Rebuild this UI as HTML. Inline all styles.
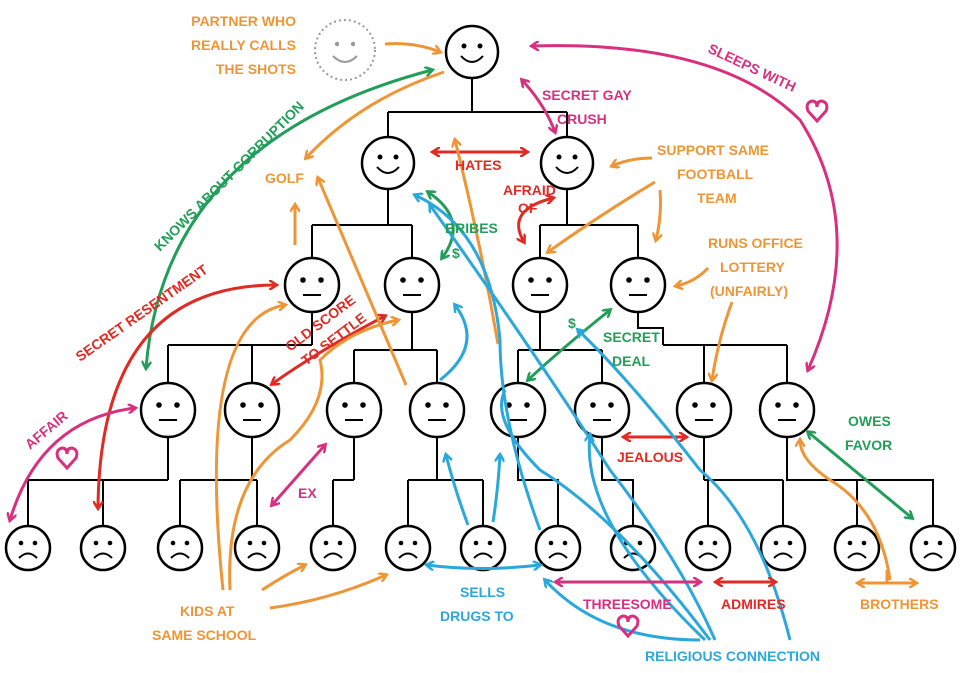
<!DOCTYPE html>
<html><head><meta charset="utf-8"><style>
body{margin:0;background:#fff}
svg{display:block}
text{font-family:"Liberation Sans",sans-serif;font-size:14px;font-weight:bold}
.f{fill:#fff;stroke:#000;stroke-width:2.5}
.l{stroke:#000;stroke-width:2;fill:none}
.o{stroke:#ee9535;fill:none;stroke-width:3}
.m{stroke:#d8307e;fill:none;stroke-width:3}
.g{stroke:#239e5a;fill:none;stroke-width:3}
.r{stroke:#e02a24;fill:none;stroke-width:3}
.b{stroke:#2aa8dc;fill:none;stroke-width:3}
.to{fill:#ee9535}.tm{fill:#d8307e}.tg{fill:#239e5a}.tr{fill:#e02a24}.tb{fill:#2aa8dc}
</style></head><body>
<svg width="962" height="673" viewBox="0 0 962 673" xmlns="http://www.w3.org/2000/svg">
<defs>
<marker id="ao" markerWidth="10" markerHeight="10" refX="7" refY="5" orient="auto-start-reverse" markerUnits="userSpaceOnUse"><path d="M0,0 L8,5 L0,10" fill="none" stroke="#ee9535" stroke-width="2.5"/></marker>
<marker id="am" markerWidth="10" markerHeight="10" refX="7" refY="5" orient="auto-start-reverse" markerUnits="userSpaceOnUse"><path d="M0,0 L8,5 L0,10" fill="none" stroke="#d8307e" stroke-width="2.5"/></marker>
<marker id="ag" markerWidth="10" markerHeight="10" refX="7" refY="5" orient="auto-start-reverse" markerUnits="userSpaceOnUse"><path d="M0,0 L8,5 L0,10" fill="none" stroke="#239e5a" stroke-width="2.5"/></marker>
<marker id="ar" markerWidth="10" markerHeight="10" refX="7" refY="5" orient="auto-start-reverse" markerUnits="userSpaceOnUse"><path d="M0,0 L8,5 L0,10" fill="none" stroke="#e02a24" stroke-width="2.5"/></marker>
<marker id="ab" markerWidth="10" markerHeight="10" refX="7" refY="5" orient="auto-start-reverse" markerUnits="userSpaceOnUse"><path d="M0,0 L8,5 L0,10" fill="none" stroke="#2aa8dc" stroke-width="2.5"/></marker>
<g id="hs"><circle r="26" class="f"/><circle cx="-8" cy="-6" r="2.5"/><circle cx="8" cy="-6" r="2.5"/><path d="M-11,4 Q0,16 11,4" class="l"/></g>
<g id="ns"><circle r="27" class="f"/><circle cx="-9" cy="-5" r="2.8"/><circle cx="9" cy="-5" r="2.8"/><path d="M-9,10 H9" class="l"/></g>
<g id="ss"><circle r="22" class="f"/><circle cx="-7" cy="-5" r="2.3"/><circle cx="7" cy="-5" r="2.3"/><path d="M-9,10 Q0,1 9,10" class="l"/></g>
</defs>

<path class="l" d="M472,78V112M388,112H567M388,112V137M567,112V137
M388,190V225M312,225H412M312,225V258M412,225V258
M567,190V225M540,225H638M540,225V258M638,225V258
M312,313V345M168,345H312M168,345V382M252,345V382
M412,313V350M354,350H437M354,350V382M437,350V382
M540,313V350M518,350H602M518,350V382M602,350V382
M638,313V328H663V345M663,345H787M704,345V382M787,345V382
M168,438V480M28,480H168M28,480V526M103,480V526
M252,438V480M180,480H257M180,480V526M257,480V526
M354,438V480M333,480H354M333,480V526
M437,438V480M408,480H483M408,480V526M483,480V526
M518,438V480H558V526
M602,438V480H633V526
M704,438V480M704,480H783M708,480V526M783,480V526
M787,438V480H933V526M857,480V526"/>

<use href="#hs" x="472" y="52"/>
<use href="#hs" x="388" y="163"/><use href="#hs" x="567" y="163"/>
<use href="#ns" x="312" y="285"/><use href="#ns" x="412" y="285"/><use href="#ns" x="540" y="285"/><use href="#ns" x="638" y="285"/>
<use href="#ns" x="168" y="410"/><use href="#ns" x="252" y="410"/><use href="#ns" x="354" y="410"/><use href="#ns" x="437" y="410"/>
<use href="#ns" x="518" y="410"/><use href="#ns" x="602" y="410"/><use href="#ns" x="704" y="410"/><use href="#ns" x="787" y="410"/>
<use href="#ss" x="28" y="548"/><use href="#ss" x="103" y="548"/><use href="#ss" x="180" y="548"/><use href="#ss" x="257" y="548"/>
<use href="#ss" x="333" y="548"/><use href="#ss" x="408" y="548"/><use href="#ss" x="483" y="548"/><use href="#ss" x="558" y="548"/>
<use href="#ss" x="633" y="548"/><use href="#ss" x="708" y="548"/><use href="#ss" x="783" y="548"/><use href="#ss" x="857" y="548"/><use href="#ss" x="933" y="548"/>

<circle cx="345" cy="50" r="30" fill="none" stroke="#999" stroke-width="2" stroke-dasharray="2,3"/>
<circle cx="337" cy="44" r="2.2" fill="#999"/><circle cx="353" cy="44" r="2.2" fill="#999"/>
<path d="M333,56 Q345,68 357,56" fill="none" stroke="#999" stroke-width="2"/>

<path class="o" marker-end="url(#ao)" d="M385,44 Q415,42 440,52"/>
<path class="o" marker-end="url(#ao)" d="M444,72 Q360,100 306,158"/>
<path class="g" marker-start="url(#ag)" marker-end="url(#ag)" d="M432,70 Q165,140 146,368"/>
<path class="m" marker-start="url(#am)" marker-end="url(#am)" d="M532,46 Q720,40 800,120 Q870,230 808,370"/>
<path class="m" marker-start="url(#am)" marker-end="url(#am)" d="M522,80 Q545,105 555,132"/>
<path class="r" marker-start="url(#ar)" marker-end="url(#ar)" d="M433,152 H527"/>
<path class="r" marker-start="url(#ar)" marker-end="url(#ar)" d="M553,198 Q505,210 524,242"/>
<path class="o" marker-end="url(#ao)" d="M652,158 Q630,158 612,166"/>
<path class="o" marker-end="url(#ao)" d="M655,182 Q600,215 548,252"/>
<path class="o" marker-end="url(#ao)" d="M660,190 Q662,215 656,240"/>
<path class="o" marker-end="url(#ao)" d="M708,268 Q695,282 676,286"/>
<path class="o" marker-end="url(#ao)" d="M732,302 Q718,340 712,380"/>
<path class="o" marker-end="url(#ao)" d="M295,245 V205"/>
<path class="g" marker-start="url(#ag)" marker-end="url(#ag)" d="M428,192 Q470,220 442,258"/>
<path class="g" marker-start="url(#ag)" marker-end="url(#ag)" d="M610,310 Q560,350 528,380"/>
<path class="r" marker-start="url(#ar)" marker-end="url(#ar)" d="M276,285 Q100,285 98,508"/>
<path class="r" marker-start="url(#ar)" marker-end="url(#ar)" d="M385,316 Q320,350 272,384"/>
<path class="o" marker-end="url(#ao)" d="M223,590 Q195,320 285,305"/>
<path class="o" marker-end="url(#ao)" d="M230,590 Q225,480 290,440 Q330,400 320,360 Q350,330 398,320"/>
<path class="o" marker-end="url(#ao)" d="M406,385 Q370,300 318,178"/>
<path class="o" marker-end="url(#ao)" d="M498,344 Q480,240 455,140"/>
<path class="o" marker-end="url(#ao)" d="M262,590 Q285,575 305,565"/>
<path class="o" marker-end="url(#ao)" d="M270,608 Q330,600 386,575"/>
<path class="m" marker-start="url(#am)" marker-end="url(#am)" d="M272,505 L325,445"/>
<path class="m" marker-start="url(#am)" marker-end="url(#am)" d="M10,520 Q40,420 135,408"/>
<path class="r" marker-start="url(#ar)" marker-end="url(#ar)" d="M624,437 H686"/>
<path class="g" marker-start="url(#ag)" marker-end="url(#ag)" d="M808,432 L912,518"/>
<path class="o" marker-end="url(#ao)" d="M890,580 Q880,510 830,480 Q800,460 800,440"/>
<path class="o" marker-start="url(#ao)" marker-end="url(#ao)" d="M858,583 H916"/>
<path class="o" d="M887,570 V583"/>
<path class="b" marker-start="url(#ab)" marker-end="url(#ab)" d="M427,565 Q480,572 540,565"/>
<path class="b" marker-end="url(#ab)" d="M468,525 Q455,490 446,455"/>
<path class="b" marker-end="url(#ab)" d="M493,522 Q498,490 500,455"/>
<path class="b" marker-end="url(#ab)" d="M440,380 Q485,345 455,305"/>
<path class="b" marker-end="url(#ab)" d="M540,530 Q500,420 500,340 Q490,230 415,195"/>
<path class="b" marker-end="url(#ab)" d="M705,640 Q580,520 590,435"/>
<path class="b" marker-end="url(#ab)" d="M700,640 Q600,640 545,580"/>
<path class="b" d="M710,640 Q620,520 540,470 Q490,420 505,390"/>
<path class="b" marker-end="url(#ab)" d="M790,640 Q760,520 700,470 Q630,380 578,330"/>
<path class="b" marker-end="url(#ab)" d="M715,640 Q680,560 610,470 Q540,360 430,205"/>
<path class="m" marker-start="url(#am)" marker-end="url(#am)" d="M556,582 H700"/>
<path class="r" marker-start="url(#ar)" marker-end="url(#ar)" d="M716,582 H775"/>

<path class="m" stroke-width="2.2" d="M67,468 L58,458 Q55,450 62,448 Q67,448 67,454 Q67,448 72,448 Q79,450 76,458 Z"/>
<path class="m" stroke-width="2.2" d="M817,121 L808,111 Q805,103 812,101 Q817,101 817,107 Q817,101 822,101 Q829,103 826,111 Z"/>
<path class="m" stroke-width="2.2" d="M628,636 L619,626 Q616,618 623,616 Q628,616 628,622 Q628,616 633,616 Q640,618 637,626 Z"/>

<text class="to" text-anchor="end" x="296" y="26">PARTNER WHO</text>
<text class="to" text-anchor="end" x="296" y="50">REALLY CALLS</text>
<text class="to" text-anchor="end" x="296" y="74">THE SHOTS</text>
<text class="tm" x="542" y="100">SECRET GAY</text>
<text class="tm" x="557" y="124">CRUSH</text>
<text class="tm" transform="translate(707,52) rotate(25)">SLEEPS WITH</text>
<text class="tg" transform="translate(160,252) rotate(-45)">KNOWS ABOUT CORRUPTION</text>
<text class="to" x="265" y="183">GOLF</text>
<text class="tr" x="455" y="170">HATES</text>
<text class="tr" x="503" y="195">AFRAID</text>
<text class="tr" x="518" y="213">OF</text>
<text class="tg" x="445" y="233">BRIBES</text>
<text class="tg" x="452" y="258">$</text>
<text class="to" x="657" y="155">SUPPORT SAME</text>
<text class="to" x="677" y="179">FOOTBALL</text>
<text class="to" x="697" y="203">TEAM</text>
<text class="to" x="708" y="248">RUNS OFFICE</text>
<text class="to" x="720" y="272">LOTTERY</text>
<text class="to" x="710" y="296">(UNFAIRLY)</text>
<text class="tr" transform="translate(80,362) rotate(-35)">SECRET RESENTMENT</text>
<text class="tr" transform="translate(290,352) rotate(-37)">OLD SCORE</text>
<text class="tr" transform="translate(306,366) rotate(-37)">TO SETTLE</text>
<text class="tg" x="568" y="328">$</text>
<text class="tg" x="603" y="342">SECRET</text>
<text class="tg" x="612" y="366">DEAL</text>
<text class="tm" transform="translate(30,450) rotate(-40)">AFFAIR</text>
<text class="tm" x="298" y="498">EX</text>
<text class="tr" x="617" y="462">JEALOUS</text>
<text class="tg" x="848" y="426">OWES</text>
<text class="tg" x="845" y="450">FAVOR</text>
<text class="to" x="180" y="616">KIDS AT</text>
<text class="to" x="152" y="640">SAME SCHOOL</text>
<text class="tb" x="460" y="597">SELLS</text>
<text class="tb" x="440" y="621">DRUGS TO</text>
<text class="tm" x="583" y="609">THREESOME</text>
<text class="tr" x="721" y="609">ADMIRES</text>
<text class="to" x="860" y="609">BROTHERS</text>
<text class="tb" x="645" y="661">RELIGIOUS CONNECTION</text>
</svg>
</body></html>
